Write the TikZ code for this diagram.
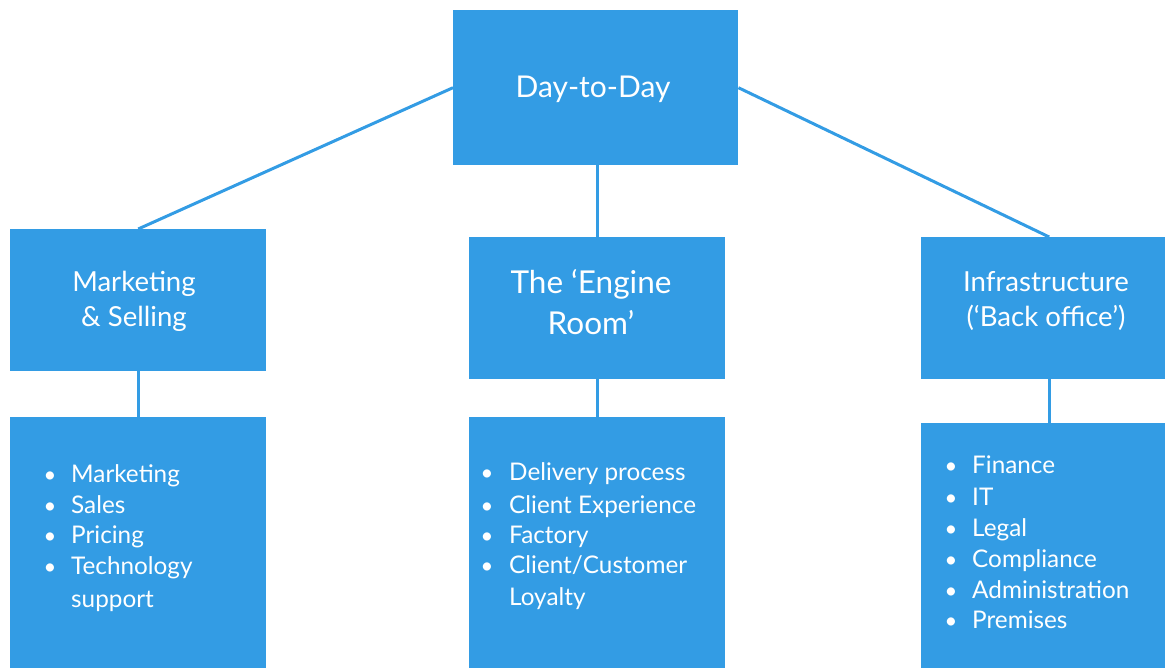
\documentclass[tikz,border=0pt]{standalone}
\usepackage{fontspec}
\setmainfont{Lato}
\definecolor{boxblue}{RGB}{51,156,228}
\begin{document}
\begin{tikzpicture}[x=1pt,y=-1pt,
  box/.style={rectangle, fill=boxblue, draw=none, inner sep=0pt, anchor=north west},
  conn/.style={draw=boxblue, line width=3pt},
  bigtitle/.style={text=white, inner sep=0pt, anchor=base, font=\fontsize{30}{36}\selectfont},
  engtitle/.style={text=white, inner sep=0pt, anchor=base, font=\fontsize{31.5}{38}\selectfont},
  title/.style={text=white, inner sep=0pt, anchor=base, font=\fontsize{27.6}{33}\selectfont},
  item/.style={text=white, inner sep=0pt, anchor=base west, font=\fontsize{24.3}{29}\selectfont},
  dot/.style={text=white, inner sep=0pt, anchor=base, font=\fontsize{22}{29}\selectfont}]
\path[use as bounding box] (0,0) rectangle (1165,668);
\clip (0,0) rectangle (1165,668);
% boxes
\node[box, minimum width=285pt, minimum height=155pt] (top) at (453,10) {};
\node[box, minimum width=256pt, minimum height=142pt] (mkt) at (10,229) {};
\node[box, minimum width=256pt, minimum height=142pt] (eng) at (469,237) {};
\node[box, minimum width=256pt, minimum height=142pt] (inf) at (921,237) {};
\node[box, minimum width=256pt, minimum height=260pt] (mktl) at (10,417) {};
\node[box, minimum width=256pt, minimum height=260pt] (engl) at (469,417) {};
\node[box, minimum width=256pt, minimum height=260pt] (infl) at (921,423) {};
% connectors
\draw[conn] (top.west) -- (mkt.north);
\draw[conn] (top.east) -- (inf.north);
\draw[conn] (eng.north |- top.south) -- (eng.north);
\draw[conn] (mkt.south) -- (mktl.north);
\draw[conn] (eng.south) -- (engl.north);
\draw[conn] (inf.south) -- (infl.north);
% titles
\node[bigtitle] (t0) at (593,98) {Day-to-Day};
\node[title] (t1a) at (134,292) {Marketing};
\node[title] (t1b) at (134,327) {\&\ Selling};
\node[engtitle] (t2a) at (591,294) {The ‘Engine};
\node[engtitle] (t2b) at (591,335) {Room’};
\node[title] (t3a) at (1046,292) {Infrastructure};
\node[title] (t3b) at (1046,327) {(‘Back office’)};
% left list
\foreach \y/\t [count=\i] in {482/Marketing,513/Sales,543/Pricing,574/Technology}{
  \node[dot] (ld\i) at (50,\y) {•};
  \node[item] (li\i) at (71,\y) {\t};
}
\node[item] (li5) at (71,607) {support};
% centre list
\foreach \y/\t [count=\i] in {480/Delivery process,513/Client Experience,543/Factory,573/Client\slash Customer}{
  \node[dot] (cd\i) at (487,\y) {•};
  \node[item] (ci\i) at (509,\y) {\t};
}
\node[item] (ci5) at (509,605) {Loyalty};
% right list
\foreach \y/\t [count=\i] in {473/Finance,505/IT,536/Legal,567/Compliance,598/Administration,628/Premises}{
  \node[dot] (rd\i) at (951,\y) {•};
  \node[item] (ri\i) at (972,\y) {\t};
}
\end{tikzpicture}
\end{document}
